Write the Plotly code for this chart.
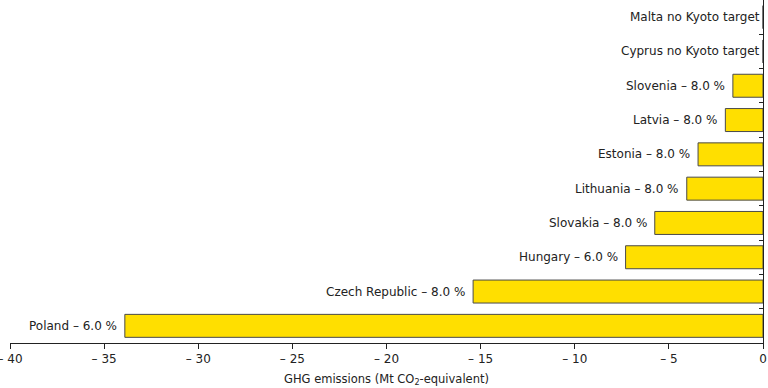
import plotly.graph_objects as go

countries = ["Poland", "Czech Republic", "Hungary", "Slovakia", "Lithuania",
             "Estonia", "Latvia", "Slovenia", "Cyprus", "Malta"]
targets = ["– 6.0 %", "– 8.0 %", "– 6.0 %", "– 8.0 %", "– 8.0 %",
           "– 8.0 %", "– 8.0 %", "– 8.0 %", "no Kyoto target", "no Kyoto target"]
values = [-33.9, -15.4, -7.3, -5.75, -4.05, -3.45, -2.0, -1.6, 0, 0]
xticks = [-40, -35, -30, -25, -20, -15, -10, -5, 0]
xticklabels = ["– 40", "– 35", "– 30", "– 25", "– 20", "– 15", "– 10", "– 5", "0"]

FONT = "DejaVu Sans, Verdana, sans-serif"

fig = go.Figure()
fig.add_trace(go.Bar(
    x=values, y=countries, orientation="h",
    marker=dict(color="#FFDF00", line=dict(color="#4a4a4a", width=1)),
    width=0.67, hoverinfo="x+y", showlegend=False,
))

for c, t, v in zip(countries, targets, values):
    fig.add_annotation(
        x=v, y=c, text=f"{c} {t}", showarrow=False,
        xanchor="right", xshift=-6 if v != 0 else -1,
        font=dict(family=FONT, size=12, color="#222222"),
    )

fig.update_layout(
    width=768, height=388,
    margin=dict(l=10, r=5, t=0, b=45),
    plot_bgcolor="white", paper_bgcolor="white",
    font=dict(family=FONT, size=12, color="#222222"),
    xaxis=dict(
        range=[-40, 0], tickvals=xticks, ticktext=xticklabels,
        showgrid=False, zeroline=False, automargin=False,
        ticklabeloverflow="allow",
        showline=True, linecolor="#222222", linewidth=1,
        ticks="outside", ticklen=5, tickcolor="#222222",
        tickfont=dict(family=FONT, size=12, color="#222222"),
        title=dict(text="GHG emissions (Mt CO<sub>2</sub>-equivalent)",
                   font=dict(family=FONT, size=11.5, color="#222222"), standoff=9),
    ),
    yaxis=dict(
        side="right", showticklabels=False, showgrid=False, zeroline=False,
        automargin=False,
        showline=True, linecolor="#222222", linewidth=1,
        ticks="inside", ticklen=4, tickcolor="#222222", tickson="boundaries",
        categoryorder="array", categoryarray=countries,
        range=[-0.5, 9.5],
    ),
)

fig.write_html("out.html", config={"displayModeBar": False},
               post_script="document.body.style.margin='0';document.body.style.overflow='hidden';")
